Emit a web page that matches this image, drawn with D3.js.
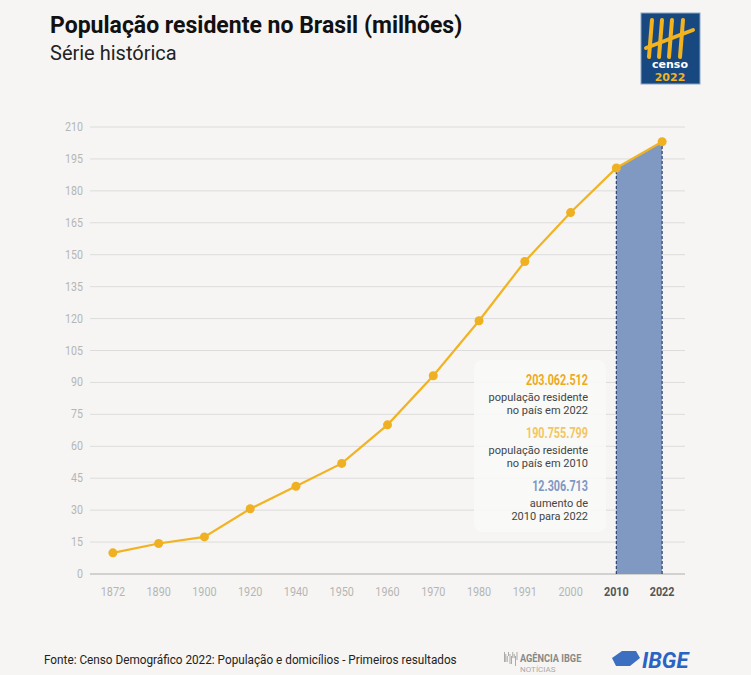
<!DOCTYPE html>
<html lang="pt-BR">
<head>
<meta charset="UTF-8">
<title>População residente no Brasil</title>
<script src="https://d3js.org/d3.v7.min.js"></script>
<style>
  body { margin: 0; background: #f6f5f3; }
  svg { display: block; font-family: "Roboto", "Liberation Sans", sans-serif; }
</style>
</head>
<body>
<svg width="751" height="675"></svg>
<script>
// census years and population (millions)
const years = ["1872", "1890", "1900", "1920", "1940", "1950", "1960", "1970", "1980", "1991", "2000", "2010", "2022"];
const population = [9.93, 14.33, 17.44, 30.64, 41.24, 51.94, 70.07, 93.14, 119.0, 146.83, 169.8, 190.76, 203.06];
const yTicks = [0, 15, 30, 45, 60, 75, 90, 105, 120, 135, 150, 165, 180, 195, 210];
const highlightYears = ["2010", "2022"];

const notes = [
  { value: "203.062.512", color: "#eeaa1c", lines: ["população residente", "no país em 2022"] },
  { value: "190.755.799", color: "#f3c660", lines: ["população residente", "no país em 2010"] },
  { value: "12.306.713", color: "#7f97c4", lines: ["aumento de", "2010 para 2022"] }
];

const svg = d3.select("svg");
const data = years.map((y, i) => ({ year: y, value: population[i] }));

const x = d3.scalePoint().domain(years).range([90, 685]).padding(0.5);
const y = d3.scaleLinear().domain([0, 210]).range([574, 127]);

// squeeze a text horizontally to fake a condensed face
function condense(sel, k) {
  sel.each(function() {
    const w = this.getComputedTextLength();
    d3.select(this).attr("textLength", w * k).attr("lengthAdjust", "spacingAndGlyphs");
  });
}

// title
svg.append("text").attr("x", 50).attr("y", 33)
  .attr("font-size", 23).attr("font-weight", "bold").attr("fill", "#111")
  .text("População residente no Brasil (milhões)");
svg.append("text").attr("x", 50).attr("y", 60)
  .attr("font-size", 20).attr("fill", "#222")
  .text("Série histórica");

// grid
svg.append("g").selectAll("line").data(yTicks).enter().append("line")
  .attr("x1", 90).attr("x2", 685)
  .attr("y1", d => y(d)).attr("y2", d => y(d))
  .attr("stroke", d => d === 0 ? "#c4c4c4" : "#dcdcdc")
  .attr("stroke-width", d => d === 0 ? 1.5 : 1);

svg.append("g").selectAll("text").data(yTicks).enter().append("text")
  .attr("x", 83).attr("y", d => y(d) + 4)
  .attr("text-anchor", "end").attr("font-size", 12.5).attr("fill", "#b5b5b5")
  .text(d => d).call(condense, 0.85);

// x labels
svg.append("g").selectAll("text").data(years).enter().append("text")
  .attr("x", d => x(d)).attr("y", 596)
  .attr("text-anchor", "middle").attr("font-size", 13.5)
  .attr("font-weight", d => highlightYears.includes(d) ? "bold" : "normal")
  .attr("fill", d => highlightYears.includes(d) ? "#555" : "#b5b5b5")
  .text(d => d).call(condense, 0.8);

// highlighted area 2010-2022
const hl = data.filter(d => highlightYears.includes(d.year));
const area = d3.area().x(d => x(d.year)).y0(y(0)).y1(d => y(d.value));
svg.append("path").datum(hl).attr("d", area).attr("fill", "#8099c3");
svg.append("g").selectAll("line").data(hl).enter().append("line")
  .attr("x1", d => x(d.year)).attr("x2", d => x(d.year))
  .attr("y1", y(0)).attr("y2", d => y(d.value))
  .attr("stroke", "#2c4470").attr("stroke-width", 1.2)
  .attr("stroke-dasharray", "3,2");

// line and points
const line = d3.line().x(d => x(d.year)).y(d => y(d.value));
svg.append("path").datum(data).attr("d", line)
  .attr("fill", "none").attr("stroke", "#f1b322").attr("stroke-width", 2.2);
svg.append("g").selectAll("circle").data(data).enter().append("circle")
  .attr("cx", d => x(d.year)).attr("cy", d => y(d.value)).attr("r", 4.5)
  .attr("fill", "#efb021");

// annotation box
svg.append("rect").attr("x", 474).attr("y", 360).attr("width", 132).attr("height", 172)
  .attr("rx", 8).attr("fill", "#f8f8f7").attr("opacity", 0.92);
const nx = 588;
notes.forEach((n, i) => {
  const top = 385 + i * 53;
  svg.append("text").attr("x", nx).attr("y", top)
    .attr("text-anchor", "end").attr("font-size", 15).attr("font-weight", "bold")
    .attr("fill", n.color).text(n.value).call(condense, 0.72);
  n.lines.forEach((l, j) => {
    svg.append("text").attr("x", nx).attr("y", top + 16 + j * 13)
      .attr("text-anchor", "end").attr("font-size", 11).attr("fill", "#444")
      .text(l);
  });
});

// censo logo
const logo = svg.append("g");
logo.append("rect").attr("x", 641).attr("y", 13).attr("width", 59).attr("height", 71)
  .attr("fill", "#17487f").attr("stroke", "#8aa6c8").attr("stroke-width", 1);
[652, 662, 672, 683].forEach(px => {
  logo.append("path").attr("d", `M${px},20 L${px - 3},57`)
    .attr("stroke", "#f2b31f").attr("stroke-width", 4).attr("stroke-linecap", "round");
});
logo.append("path").attr("d", "M646,48 L693,30")
  .attr("stroke", "#f2b31f").attr("stroke-width", 4).attr("stroke-linecap", "round");
logo.append("text").attr("x", 670).attr("y", 68).attr("text-anchor", "middle")
  .attr("font-size", 11).attr("font-weight", "bold").attr("fill", "#fff")
  .attr("font-family", "DejaVu Sans").text("censo");
logo.append("text").attr("x", 670).attr("y", 81).attr("text-anchor", "middle")
  .attr("font-size", 11).attr("font-weight", "bold").attr("fill", "#f2b31f")
  .attr("font-family", "DejaVu Sans").text("2022");

// footer
svg.append("text").attr("x", 44).attr("y", 664)
  .attr("font-size", 12.5).attr("fill", "#222")
  .text("Fonte: Censo Demográfico 2022: População e domicílios - Primeiros resultados")
  .call(condense, 0.94);
const ag = svg.append("g");
d3.range(0, 10).forEach(i => {
  ag.append("rect").attr("x", 504 + i * 1.4).attr("y", 652 + (i % 3) * 2)
    .attr("width", 0.8).attr("height", 10 - (i % 4) * 2).attr("fill", "#999");
});
ag.append("text").attr("x", 520).attr("y", 662).attr("font-size", 11.5)
  .attr("fill", "#888").attr("font-weight", "bold").text("AGÊNCIA IBGE").call(condense, 0.8);
ag.append("text").attr("x", 520).attr("y", 672).attr("font-size", 8)
  .attr("fill", "#aaa").text("NOTÍCIAS");
ag.append("path").attr("d", "M612,658 L622,651 L636,651 L640,658 L630,666 L616,666 Z")
  .attr("fill", "#3d6fc0");
ag.append("text").attr("x", 642).attr("y", 668).attr("font-size", 22)
  .attr("font-weight", "bold").attr("font-style", "italic")
  .attr("fill", "#2a63c4").text("IBGE");
</script>
</body>
</html>
